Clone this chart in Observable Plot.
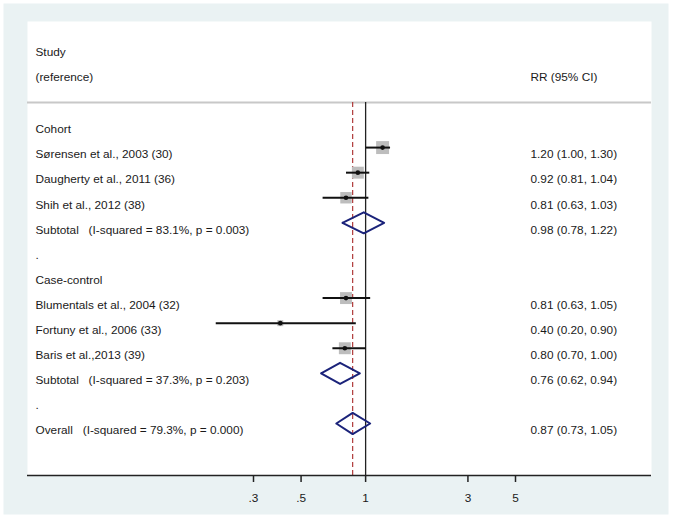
<!DOCTYPE html>
<html>
<head>
<meta charset="utf-8">
<script src="https://cdn.jsdelivr.net/npm/d3@7"></script>
<script src="https://cdn.jsdelivr.net/npm/@observablehq/plot@0.6"></script>
<style>
  html, body { margin: 0; padding: 0; background: #ffffff; }
</style>
</head>
<body>
<div id="chart"></div>
<script>
// ---- data ----
const studyNames = [
  "Sørensen et al., 2003 (30)",
  "Daugherty et al., 2011 (36)",
  "Shih et al., 2012 (38)",
  "Blumentals et al., 2004 (32)",
  "Fortuny et al., 2006 (33)",
  "Baris et al.,2013 (39)"
];
const studyRows = [1, 2, 3, 7, 8, 9];
const studyRR = [1.20, 0.92, 0.81, 0.81, 0.40, 0.80];
const studyLo = [1.00, 0.81, 0.63, 0.63, 0.20, 0.70];
const studyHi = [1.30, 1.04, 1.03, 1.05, 0.90, 1.00];
const studyWeight = [22.0, 18.7, 17.2, 18.7, 4.7, 18.7];

const pooledNames = [
  "Subtotal\u00a0\u00a0\u00a0(I-squared = 83.1%, p = 0.003)",
  "Subtotal\u00a0\u00a0\u00a0(I-squared = 37.3%, p = 0.203)",
  "Overall\u00a0\u00a0\u00a0(I-squared = 79.3%, p = 0.000)"
];
const pooledRows = [4, 10, 12];
const pooledRR = [0.98, 0.76, 0.87];
const pooledLo = [0.78, 0.62, 0.73];
const pooledHi = [1.22, 0.94, 1.05];

const groupNames = ["Cohort", "Case-control"];
const groupRows = [0, 6];
const spacerRows = [5, 11];

const headerLeft = ["Study", "(reference)"];
const headerLeftRows = [-3.08, -2.08];
const headerRight = "RR (95% CI)";
const headerRightRow = -2.08;

const tickValues = [0.3, 0.5, 1, 3, 5];
const tickLabels = [".3", ".5", "1", "3", "5"];
const overallRR = 0.87;
const nullValue = 1;

// ---- derived tables ----
const fmt = (v) => v.toFixed(2);
const studies = studyNames.map((name, i) => ({
  name, row: studyRows[i], rr: studyRR[i], lo: studyLo[i], hi: studyHi[i], w: studyWeight[i],
  ci: `${fmt(studyRR[i])} (${fmt(studyLo[i])}, ${fmt(studyHi[i])})`
}));
const pooled = pooledNames.map((name, i) => ({
  name, row: pooledRows[i], rr: pooledRR[i], lo: pooledLo[i], hi: pooledHi[i],
  ci: `${fmt(pooledRR[i])} (${fmt(pooledLo[i])}, ${fmt(pooledHi[i])})`
}));
const halfH = 0.42;
const diamonds = pooled.flatMap((p, i) => [
  {g: i, x: p.lo, y: p.row},
  {g: i, x: p.rr, y: p.row - halfH},
  {g: i, x: p.hi, y: p.row},
  {g: i, x: p.rr, y: p.row + halfH},
  {g: i, x: p.lo, y: p.row}
]);
const leftText = [
  ...headerLeft.map((t, i) => ({t, row: headerLeftRows[i]})),
  ...groupNames.map((t, i) => ({t, row: groupRows[i]})),
  ...studies.map(s => ({t: s.name, row: s.row})),
  ...pooled.map(p => ({t: p.name, row: p.row})),
  ...spacerRows.map(r => ({t: ".", row: r}))
];
const rightText = [
  {t: headerRight, row: headerRightRow},
  ...studies.map(s => ({t: s.ci, row: s.row})),
  ...pooled.map(p => ({t: p.ci, row: p.row}))
];
const sepRow = -0.8;
const axisRow = 14.07;

const W = 673, H = 522;
const chart = Plot.plot({
  width: W,
  height: H,
  marginLeft: 27,
  marginRight: 22,
  marginTop: 21,
  marginBottom: 47,
  style: {fontFamily: "'Liberation Sans', Arial, sans-serif", fontSize: "11.8px", color: "#1a1a1a", background: "#ffffff"},
  x: {type: "log", domain: [0.3, 5], range: [253, 515]},
  y: {domain: [0, 12], range: [122, 423], axis: null},
  r: {type: "sqrt", domain: [0, 22], range: [0, 7.3]},
  marks: [
    Plot.frame({fill: "#eaf2f3", stroke: "none", insetLeft: -24, insetRight: -17, insetTop: -18, insetBottom: -39}),
    Plot.frame({fill: "#ffffff", stroke: "none"}),
    Plot.ruleY([sepRow], {stroke: "#c8c8c8", strokeWidth: 2}),
    Plot.ruleX([overallRR], {y1: sepRow, y2: axisRow, stroke: "#b03a3a", strokeWidth: 1.2, strokeDasharray: "5,3"}),
    Plot.ruleX([nullValue], {y1: sepRow, y2: axisRow, stroke: "#222", strokeWidth: 1.3}),
    Plot.dot(studies, {x: "rr", y: "row", r: "w", symbol: "square", fill: "#bdbdbd", stroke: "none"}),
    Plot.link(studies, {x1: "lo", x2: "hi", y1: "row", y2: "row", stroke: "#111", strokeWidth: 2}),
    Plot.dot(studies, {x: "rr", y: "row", r: 2.3, fill: "#111", stroke: "none"}),
    Plot.line(diamonds, {x: "x", y: "y", z: "g", stroke: "#1b237a", strokeWidth: 2, curve: "linear"}),
    Plot.text(leftText, {y: "row", text: "t", frameAnchor: "left", textAnchor: "start", dx: 8, dy: 7, fill: "#1a1a1a"}),
    Plot.text(rightText, {y: "row", text: "t", frameAnchor: "left", textAnchor: "start", dx: 503, dy: 7, fill: "#1a1a1a"}),
    Plot.ruleY([axisRow], {stroke: "#222", strokeWidth: 1.5}),
    Plot.axisX({
      anchor: "bottom",
      ticks: tickValues,
      tickFormat: (d) => tickLabels[tickValues.indexOf(d)],
      tickSize: 7,
      tickPadding: 11,
      strokeWidth: 1.5,
      stroke: "#222",
      fill: "#1a1a1a",
      fontSize: 11.8,
      label: null
    })
  ]
});
document.getElementById("chart").appendChild(chart);
</script>
</body>
</html>
